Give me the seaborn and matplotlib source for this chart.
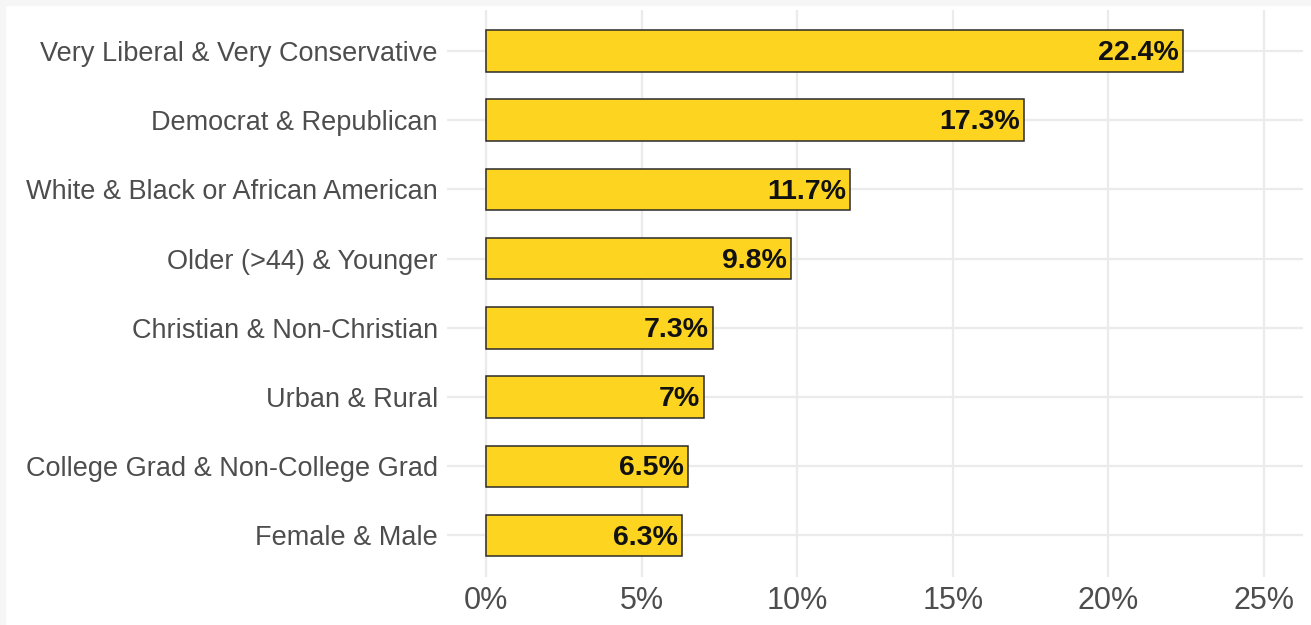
import matplotlib
matplotlib.use("Agg")
import matplotlib.pyplot as plt
from matplotlib.ticker import FuncFormatter, FixedLocator
from matplotlib.patches import Rectangle
import seaborn as sns
import pandas as pd

# Pairs of groups and the gap between them (percent)
groups = [
    "Very Liberal & Very Conservative",
    "Democrat & Republican",
    "White & Black or African American",
    "Older (>44) & Younger",
    "Christian & Non-Christian",
    "Urban & Rural",
    "College Grad & Non-College Grad",
    "Female & Male",
]
gap_pct = [22.4, 17.3, 11.7, 9.8, 7.3, 7.0, 6.5, 6.3]
x_ticks = [0, 5, 10, 15, 20, 25]

df = pd.DataFrame({"group": groups, "gap": gap_pct})

sns.set_theme(style="white")
plt.rcParams["font.family"] = ["Liberation Sans", "DejaVu Sans"]

fig = plt.figure(figsize=(13.11, 6.25), dpi=100)
fig.patch.set_facecolor("white")
ax = fig.add_axes([447 / 1311, 48 / 625, 856 / 1311, 567.5 / 625])

grid_c = "#EBEBEB"
for x in x_ticks:
    ax.axvline(x, color=grid_c, lw=1.6, zorder=0)
for i in range(len(groups)):
    ax.axhline(i, color=grid_c, lw=1.6, zorder=0)

sns.barplot(data=df, x="gap", y="group", orient="h", order=groups,
            color="#FDD521", saturation=1, width=0.6,
            edgecolor="#2B2B2B", linewidth=1.1, ax=ax, zorder=2)

for patch, v in zip(ax.patches, gap_pct):
    y = patch.get_y() + patch.get_height() / 2
    ax.annotate(f"{v:g}%", xy=(v, y), xytext=(-3, -1.5), textcoords="offset points",
                ha="right", va="center", fontsize=20.5, fontweight="bold",
                color="#111111", zorder=3)

ax.set_xlim(-1.25, 26.25)
ax.set_ylim(len(groups) - 0.4, -0.6)
ax.xaxis.set_major_locator(FixedLocator(x_ticks))
ax.xaxis.set_major_formatter(FuncFormatter(lambda v, p: f"{v:g}%"))
ax.set_xlabel("")
ax.set_ylabel("")
ax.tick_params(axis="y", length=0, pad=6.5, labelsize=19.5, labelcolor="#4D4D4D")
ax.tick_params(axis="x", length=0, pad=6.5, labelsize=22, labelcolor="#4D4D4D")
for s in ax.spines.values():
    s.set_visible(False)
ax.set_facecolor("white")

# faint frame along the top and left edges of the canvas
fig.patches.append(Rectangle((0, 1 - 5 / 625), 1, 5 / 625, transform=fig.transFigure,
                             color="#F6F6F6", zorder=-1))
fig.patches.append(Rectangle((0, 0), 5 / 1311, 1, transform=fig.transFigure,
                             color="#F6F6F6", zorder=-1))

fig.savefig("out.png", dpi=100)
